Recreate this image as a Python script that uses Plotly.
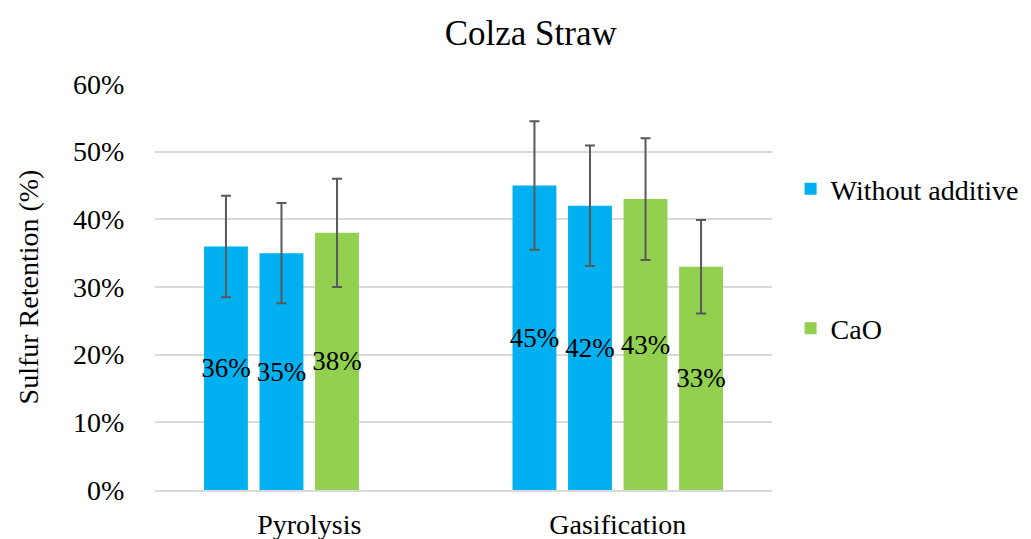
import plotly.graph_objects as go

categories = ["Pyrolysis", "Gasification"]

# four bar slots per category; the 4th slot is empty for pyrolysis
slot_values = [
    [0.36, 0.45],
    [0.35, 0.42],
    [0.38, 0.43],
    [None, 0.33],
]
slot_errors = [
    [0.075, 0.095],
    [0.074, 0.089],
    [0.080, 0.090],
    [None, 0.069],
]
slot_series = ["Without additive", "Without additive", "CaO", "CaO"]

colors = {"Without additive": "#00B0F0", "CaO": "#92D050"}
font = "Liberation Serif, Times New Roman, serif"

fig = go.Figure()
shown = set()
for vals, errs, series in zip(slot_values, slot_errors, slot_series):
    labels = [f"{v * 100:.0f}%" if v is not None else "" for v in vals]
    fig.add_trace(go.Bar(
        x=categories,
        y=vals,
        name=series,
        legendgroup=series,
        showlegend=series not in shown,
        marker=dict(color=colors[series], line=dict(width=0)),
        error_y=dict(type="data", array=errs, visible=True,
                     color="#595959", thickness=2, width=5),
        text=labels,
        textposition="inside",
        insidetextanchor="middle",
        textangle=0,
        constraintext="none",
        textfont=dict(family=font, size=27, color="black"),
        hoverinfo="x+y",
    ))
    shown.add(series)

# page body has an 8px margin, so the figure is 8px smaller on each side
fig.update_layout(
    width=1023, height=531,
    paper_bgcolor="white", plot_bgcolor="white",
    margin=dict(l=147, r=259, t=76, b=49),
    barmode="group",
    bargap=0.28,
    bargroupgap=0.21,
    font=dict(family=font, size=28, color="black"),
    title=dict(text="Colza Straw", x=0.511, xref="container", xanchor="center",
               y=0.953, yref="container", yanchor="middle",
               font=dict(family=font, size=35, color="black")),
    legend=dict(x=0.765, y=0.706, xref="container", yref="container",
                xanchor="left", yanchor="top",
                traceorder="grouped", tracegroupgap=100,
                font=dict(family=font, size=28, color="black"),
                itemwidth=30, bgcolor="rgba(0,0,0,0)"),
    showlegend=True,
)
fig.update_yaxes(
    range=[0, 0.6], dtick=0.1, tickformat=".0%",
    showgrid=True, gridcolor="#D9D9D9", gridwidth=1.5,
    zeroline=False, showline=False, automargin=False,
    ticks="outside", ticklen=24, tickcolor="rgba(0,0,0,0)",
    tickfont=dict(family=font, size=28, color="black"),
    title=dict(text="Sulfur Retention (%)", standoff=26,
               font=dict(family=font, size=28, color="black")),
)
fig.update_xaxes(
    showline=True, linecolor="#D9D9D9", linewidth=1.5, automargin=False,
    ticks="outside", ticklen=9, tickcolor="rgba(0,0,0,0)",
    tickfont=dict(family=font, size=28, color="black"),
)

fig.write_html("out.html")
